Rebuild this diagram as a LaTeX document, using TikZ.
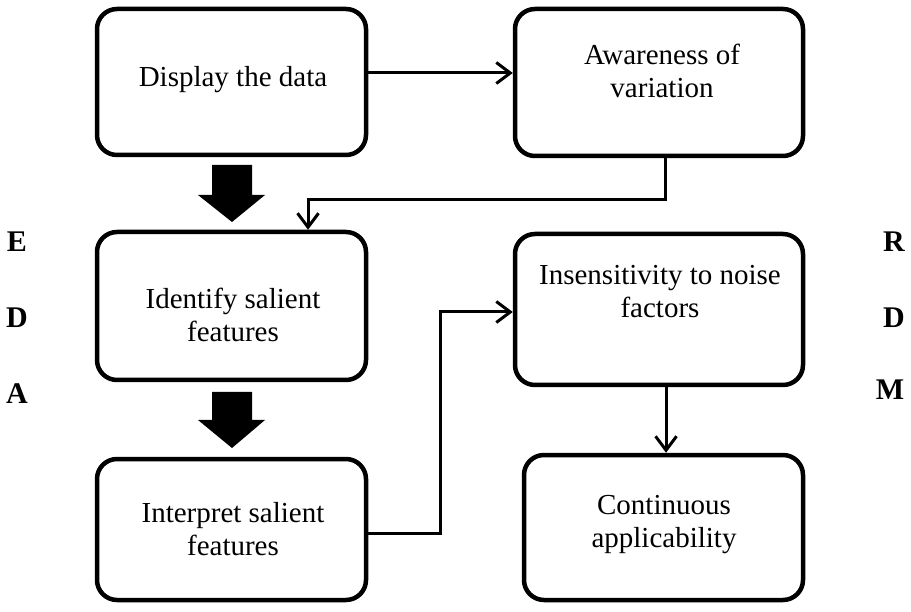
\documentclass[tikz,border=0pt]{standalone}
\usepackage{fontspec}
\setmainfont{Liberation Serif}
\usetikzlibrary{arrows.meta}
\begin{document}
\begin{tikzpicture}[x=1pt,y=-1pt,
  box/.style={draw, line width=4.5pt, rounded corners=20pt, inner sep=0pt},
  txt/.style={font=\fontsize{29}{33}\selectfont, align=center, inner sep=0pt},
  side/.style={font=\fontsize{30}{30}\selectfont\bfseries, inner sep=0pt},
  link/.style={line width=3pt, -{Straight Barb[length=14pt,width=21pt]}},
  block/.style={fill=black}]
\useasboundingbox (0,0) rectangle (911,612);

% left column
\node[box, minimum width=269pt, minimum height=146pt] (display)   at (231.5,82) {};
\node[box, minimum width=269pt, minimum height=148pt] (identify)  at (231.5,306) {};
\node[box, minimum width=269pt, minimum height=141pt] (interpret) at (231.5,529.5) {};
% right column
\node[box, minimum width=288pt, minimum height=147pt] (aware)  at (659,82.5) {};
\node[box, minimum width=288pt, minimum height=151pt] (insens) at (659,309.5) {};
\node[box, minimum width=279pt, minimum height=145pt] (cont)   at (663.5,527.5) {};

% box texts
\node[txt] (tdisplay)   at (233,80)  {Display the data};
\node[txt] (tidentify)  at (233,315) {Identify salient\\features};
\node[txt] (tinterpret) at (233,529) {Interpret salient\\features};
\node[txt] (taware)     at (662,71)  {Awareness of\\variation};
\node[txt] (tinsens)    at (660,292) {Insensitivity to noise\\factors};
\node[txt] (tcont)      at (664,525) {Continuous\\applicability};

% side letters
\node[side] (e)  at (17,242) {E};
\node[side] (d1) at (17,318) {D};
\node[side] (a)  at (17,394) {A};
\node[side] (r)  at (894,242) {R};
\node[side] (d2) at (894,318) {D};
\node[side] (m)  at (890,390) {M};

% thick block arrows
\fill[block] (212,165) -- (252,165) -- (252,195) -- (265,195) -- (232,222)
  -- (198,195) -- (212,195) -- cycle;
\fill[block] (212,392) -- (252,392) -- (252,420) -- (265,420) -- (232,448)
  -- (198,420) -- (212,420) -- cycle;

% connectors
\draw[link] (display.east |- 0,73) -- (aware.west |- 0,73);
\draw[link] (aware.south -| 665,0) |- (308,200) -- (identify.north -| 308,0);
\draw[link] (interpret.east |- 0,533) -| (440,312) -- (insens.west |- 0,312);
\draw[link] (insens.south -| 666,0) -- (cont.north -| 666,0);
\end{tikzpicture}
\end{document}
